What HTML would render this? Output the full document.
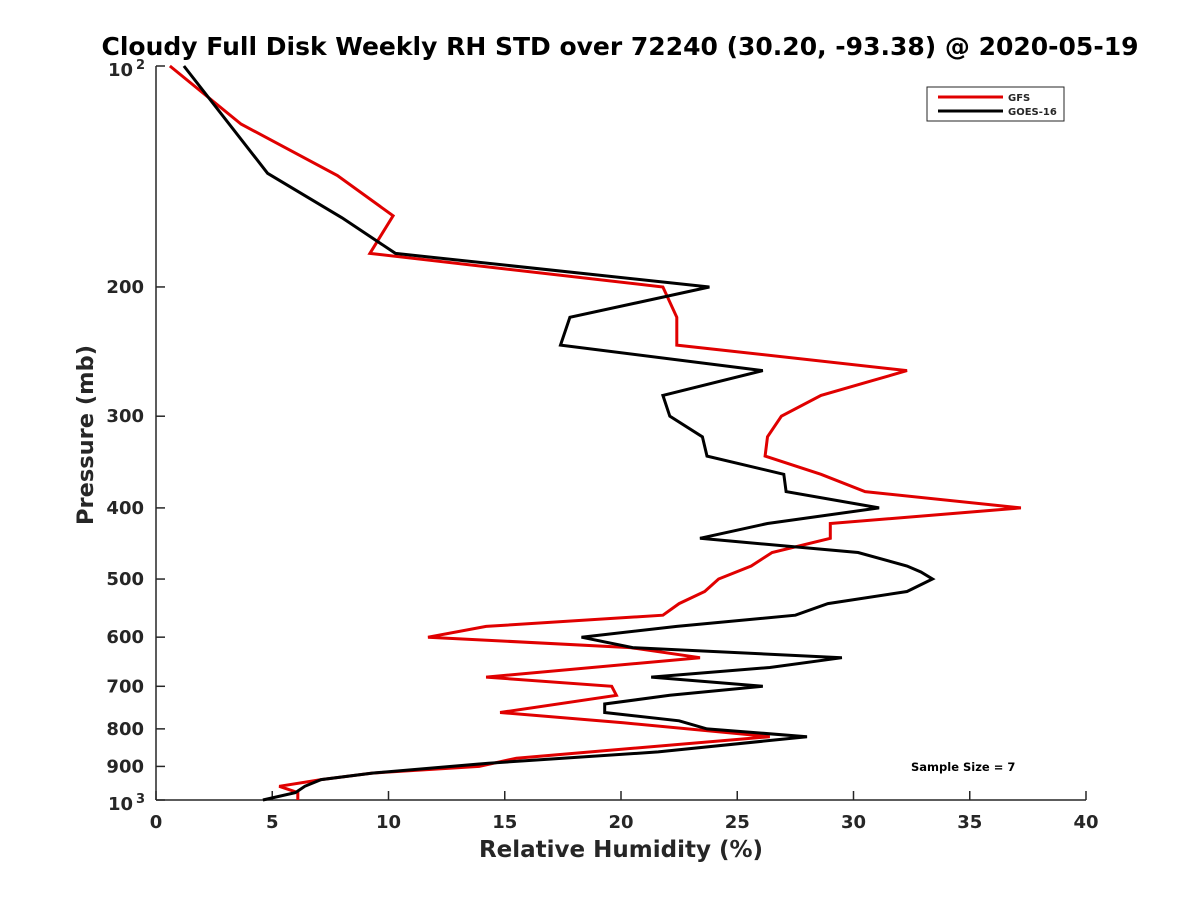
<!DOCTYPE html>
<html><head><meta charset="utf-8"><style>
body{margin:0;background:#fff;}
svg text{font-family:"DejaVu Sans","Liberation Sans",sans-serif;font-weight:bold;fill:#262626;}
</style></head><body>
<svg id="chart" width="1200" height="900" xmlns="http://www.w3.org/2000/svg">
<rect width="1200" height="900" fill="#fff"/>
<text x="620" y="55" font-size="25" text-anchor="middle" style="fill:#000">Cloudy Full Disk Weekly RH STD over 72240 (30.20, -93.38) @ 2020-05-19</text>
<g id="axes"></g>
<g id="series"></g>
<text x="621" y="857" font-size="23" text-anchor="middle">Relative Humidity (%)</text>
<text transform="translate(93,435) rotate(-90)" font-size="22.5" text-anchor="middle">Pressure (mb)</text>
<g>
<rect x="927" y="87" width="137" height="34" fill="#fff" stroke="#262626" stroke-width="1"/>
<line x1="938" y1="97" x2="1003" y2="97" stroke="#e00000" stroke-width="3"/>
<text x="1008" y="101" font-size="10">GFS</text>
<line x1="938" y1="111" x2="1003" y2="111" stroke="#000" stroke-width="3"/>
<text x="1008" y="115" font-size="10">GOES-16</text>
</g>
<text x="911" y="771" font-size="11.5" style="fill:#000">Sample Size = 7</text>
</svg>
<script>
const xTicks=[0,5,10,15,20,25,30,35,40];
const yTicks=[100,200,300,400,500,600,700,800,900,1000];
const yTickLabels=["10²","200","300","400","500","600","700","800","900","10³"];
const gfsP=[100,120,141,160,180,200,220,240,260,281,300,320,340,360,380,400,420,440,460,480,500,520,540,560,580,600,620,640,680,700,720,760,785,820,877,900,919,938,958,977,1000];
const gfsRH=[0.6,3.66,7.8,10.2,9.2,21.8,22.4,22.4,32.3,28.6,26.9,26.3,26.2,28.6,30.5,37.2,29.0,29.0,26.5,25.6,24.2,23.6,22.5,21.8,14.2,11.7,20.4,23.4,14.2,19.6,19.8,14.8,20.1,26.4,15.5,13.9,9.3,7.1,5.3,6.1,6.1];
const goesP=[100,140,161,180,200,220,240,260,281,300,320,340,360,380,400,420,440,460,480,489,500,520,540,560,580,600,620,640,660,680,700,720,740,760,780,800,820,860,891,919,938,958,977,1000];
const goesRH=[1.2,4.8,8.0,10.3,23.8,17.8,17.4,26.1,21.8,22.1,23.5,23.7,27.0,27.1,31.1,26.3,23.4,30.2,32.3,32.9,33.4,32.3,28.9,27.5,22.4,18.3,20.5,29.5,26.4,21.3,26.1,22.1,19.3,19.3,22.5,23.7,28.0,21.6,14.3,9.3,7.1,6.4,6.0,4.6];
const X0=156,X1=1086,Y0=66,Y1=800;
const xs=v=>X0+(v-0)/40*(X1-X0);
const ys=p=>Y0+Math.log10(p/100)*(Y1-Y0);
const NS="http://www.w3.org/2000/svg";
const ax=document.getElementById('axes');
function mk(tag,attrs,parent){const e=document.createElementNS(NS,tag);for(const k in attrs)e.setAttribute(k,attrs[k]);parent.appendChild(e);return e;}
let l=mk('line',{x1:X0,y1:Y0,x2:X0,y2:Y1,stroke:'#262626','stroke-width':1.5},ax);


l=mk('line',{x1:X0,y1:Y1,x2:X1,y2:Y1,stroke:'#262626','stroke-width':1.5},ax);


xTicks.forEach(v=>{
  const x=xs(v);
  const t=mk('line',{x1:x,y1:Y1,x2:x,y2:Y1-9,stroke:'#262626','stroke-width':1.5},ax);
  
  
  const tx=mk('text',{x:x,y:Y1+28,'font-size':18,'text-anchor':'middle'},ax);
  tx.textContent=v;
  
  
});
yTicks.forEach((p,i)=>{
  const y=ys(p);
  const t=mk('line',{x1:X0,y1:y,x2:X0+9,y2:y,stroke:'#262626','stroke-width':1.5},ax);
  
  
  const lab=yTickLabels[i];
  const tx=mk('text',{x:X0-12,y:y+6,'font-size':18,'text-anchor':'end'},ax);
  if(lab.length===3&&(lab[2]==='²'||lab[2]==='³')){
    tx.textContent='10';
    tx.setAttribute('x',X0-23);
    tx.setAttribute('y',y+10);
    const s=mk('text',{x:X0-20,y:y+3,'font-size':13,'text-anchor':'start'},ax);
    s.textContent=lab[2]==='²'?'2':'3';
    
    
  } else tx.textContent=lab;
  
  
});
const sg=document.getElementById('series');
function line(P,V,color,name){
  const d=P.map((p,i)=>(i?'L':'M')+xs(V[i]).toFixed(1)+','+ys(p).toFixed(1)).join('');
  const e=mk('path',{d:d,fill:'none',stroke:color,'stroke-width':3,'stroke-linejoin':'miter'},sg);
  
  
}
line(gfsP,gfsRH,'#e00000','gfs-line');
line(goesP,goesRH,'#000000','goes16-line');
</script>
</body></html>
